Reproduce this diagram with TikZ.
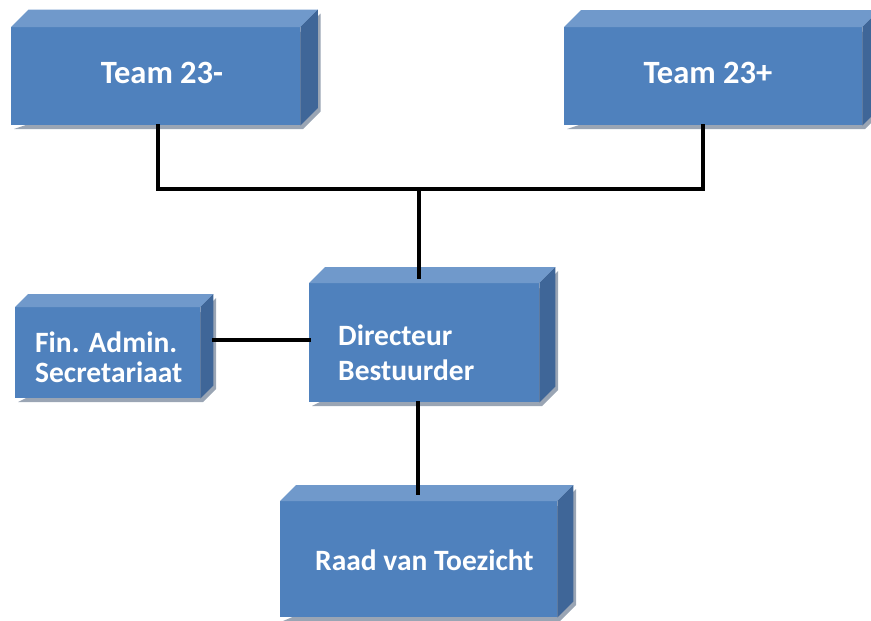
\documentclass[tikz,border=0pt]{standalone}
\usepackage{fontspec}
\setmainfont{Carlito}
\definecolor{frontc}{HTML}{4F81BD}
\definecolor{topc}{HTML}{7099CB}
\definecolor{sidec}{HTML}{3F6698}
\definecolor{shadc}{HTML}{9AA5B4}
\tikzset{
  frontbox/.style={fill=frontc, draw=none, inner sep=0pt, minimum width=#1},
  lbl/.style={text=white, font=\fontsize{29.5}{34}\selectfont\bfseries, inner sep=0pt},
  biglbl/.style={lbl, font=\fontsize{32.5}{38}\selectfont\bfseries},
  conn/.style={line width=3.6pt, line cap=rect}
}
% \boxthreed{name}{x1}{y1}{x2}{y2}{depth}
\newcommand{\boxthreed}[6]{%
  \pgfmathsetmacro{\bw}{#4-#2}\pgfmathsetmacro{\bh}{#5-#3}%
  \fill[shadc] (#2+3,#5+4) -- (#4+3,#5+4) -- (#4+#6+3,#5-#6+4) -- (#4+#6+3,#3-#6+4) -- (#4+3,#3+4) -- cycle;
  \node[frontbox=\bw pt, minimum height=\bh pt, anchor=north west] (#1) at (#2,#3) {};
  \fill[topc] (#1.north west) -- ++(#6,-#6) -- ([shift={(#6,-#6)}]#1.north east) -- (#1.north east) -- cycle;
  \fill[sidec] (#1.north east) -- ++(#6,-#6) -- ([shift={(#6,-#6)}]#1.south east) -- (#1.south east) -- cycle;
}
\begin{document}
\begin{tikzpicture}[x=1pt,y=-1pt]
\useasboundingbox (0,0) rectangle (871,621);
\boxthreed{t1}{11}{27}{300}{125}{17.5}
\boxthreed{t2}{564}{27}{862}{125}{17}
\boxthreed{dir}{309}{283}{539}{402}{16}
\boxthreed{fin}{15}{307}{200}{398}{13}
\boxthreed{rvt}{280}{501}{557}{617}{16}

\coordinate (junc) at (419,189);
\draw[conn] ([xshift=2pt]t1.south) |- (junc) -| ([xshift=-10pt]t2.south);
\draw[conn] (junc) -- ([yshift=6pt]dir.north -| junc);
\draw[conn] ([xshift=-6pt]dir.south) -- ([xshift=-0.5pt,yshift=8pt]rvt.north);
\draw[conn] ([xshift=13pt]fin.east |- 0,340) -- (dir.west |- 0,340);

\node[biglbl, anchor=base] (l1) at (162,83) {Team 23-};
\node[biglbl, anchor=base] (l2) at (708,83) {Team 23+};
\node[lbl, anchor=base west] (l3) at (338,345) {Directeur};
\node[lbl, anchor=base west] (l4) at (338,380) {Bestuurder};
\node[lbl, anchor=base west] (l5) at (35,352) {Fin. Admin.};
\node[lbl, anchor=base west] (l6) at (35,382) {Secretariaat};
\node[lbl, anchor=base west] (l7) at (315,570) {Raad van Toezicht};
\end{tikzpicture}
\end{document}
